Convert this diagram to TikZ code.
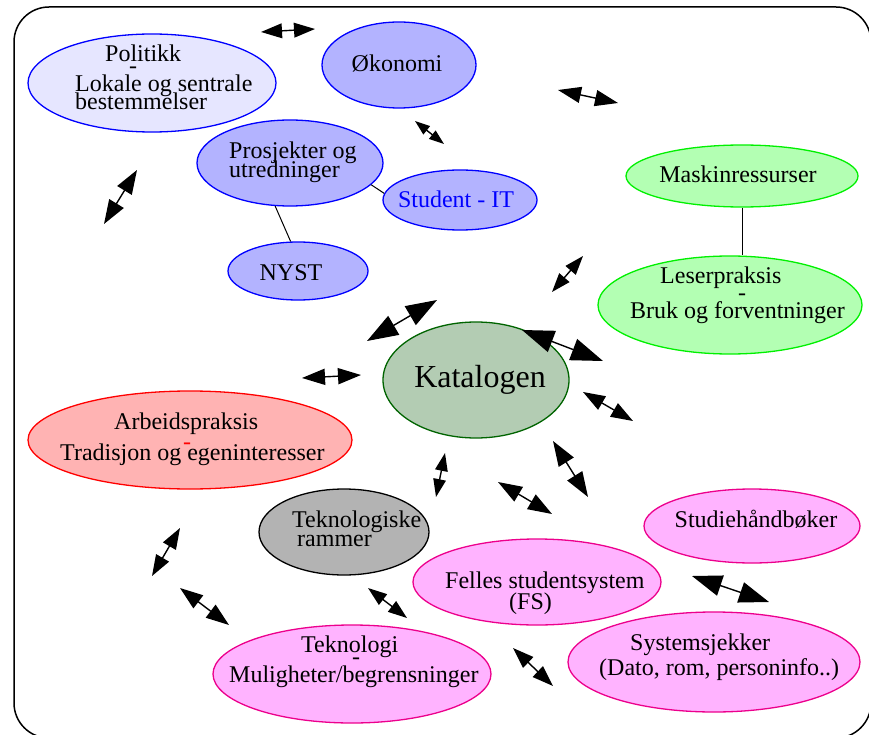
\documentclass[tikz,border=0pt]{standalone}
\usepackage{fontspec}
\setmainfont{Liberation Serif}
\usetikzlibrary{arrows.meta,shapes.geometric}
\setlength{\lineskiplimit}{-100pt}

\definecolor{lavlight}{RGB}{230,230,255}
\definecolor{bluefill}{RGB}{179,179,255}
\definecolor{greenfill}{RGB}{179,255,179}
\definecolor{greenline}{RGB}{0,240,0}
\definecolor{katfill}{RGB}{179,204,179}
\definecolor{katline}{RGB}{0,100,0}
\definecolor{redfill}{RGB}{255,179,179}
\definecolor{grayfill}{RGB}{179,179,179}
\definecolor{pinkfill}{RGB}{255,179,255}

\tikzset{
  oval/.style={ellipse, draw=#1, line width=1.3pt, inner sep=0pt},
  txt/.style={inner sep=0pt, font=\fontsize{24}{19}\selectfont},
}

\begin{document}
\begin{tikzpicture}[x=1pt,y=-1pt]
  \useasboundingbox (0,0) rectangle (869,735);
  \draw[line width=1.5pt, rounded corners=35pt] (14,7) rectangle (871,738); % ramme

  % blaa gruppe
  \node[oval=blue, fill=lavlight, minimum width=248pt, minimum height=98pt] (pol) at (152,83) {};
  \node[oval=blue, fill=bluefill, minimum width=154pt, minimum height=86pt] (oko) at (399,65) {};
  \node[oval=blue, fill=bluefill, minimum width=186pt, minimum height=86pt] (pro) at (290,163) {};
  \node[oval=blue, fill=bluefill, minimum width=154pt, minimum height=60pt] (stu) at (460,200) {};
  \node[oval=blue, fill=bluefill, minimum width=140pt, minimum height=58pt] (nyst) at (298,271) {};
  % groenn gruppe
  \node[oval=greenline, fill=greenfill, minimum width=232pt, minimum height=62pt] (mas) at (742,176) {};
  \node[oval=greenline, fill=greenfill, minimum width=264pt, minimum height=98pt] (les) at (730,305) {};
  % midten
  \node[oval=katline, fill=katfill, minimum width=186pt, minimum height=116pt] (kat) at (476,380) {};
  \node[oval=red, fill=redfill, minimum width=324pt, minimum height=98pt] (arb) at (190,440) {};
  \node[oval=black, fill=grayfill, minimum width=170pt, minimum height=86pt] (tek) at (344,532) {};
  % rosa gruppe
  \node[oval=magenta, fill=pinkfill, minimum width=278pt, minimum height=98pt] (teko) at (352,674) {};
  \node[oval=magenta, fill=pinkfill, minimum width=248pt, minimum height=86pt] (fs) at (537,582) {};
  \node[oval=magenta, fill=pinkfill, minimum width=216pt, minimum height=74pt] (sth) at (752,526) {};
  \node[oval=magenta, fill=pinkfill, minimum width=292pt, minimum height=100pt] (sys) at (714,662) {};

  % forbindelser
  \draw[line width=1pt] (pro.-15) -- (stu.175);
  \draw[line width=1pt] (pro.-109) -- (nyst.104);
  \draw[line width=1pt] (mas.south) -- (les.north -| mas.south);

  % tekst
  \node[txt, anchor=north west, align=left, font=\fontsize{24}{18}\selectfont] (pol-t) at (75,44.6)
    {\hspace*{30pt}Politikk\\[-6pt]\hspace*{54pt}-\\Lokale og sentrale\\bestemmelser};
  \node[txt, anchor=base] (oko-t) at (397,72) {Økonomi};
  \node[txt, anchor=north west, align=left] (pro-t) at (229,141.6) {Prosjekter og\\utredninger};
  \node[txt, anchor=base, text=blue] (stu-t) at (456,208) {Student - IT};
  \node[txt, anchor=base] (nyst-t) at (291,280) {NYST};
  \node[txt, anchor=base] (mas-t) at (738,183) {Maskinressurser};
  \node[txt, anchor=north west, align=left, font=\fontsize{24}{17.5}\selectfont] (les-t) at (630,266.6)
    {\hspace*{30pt}Leserpraksis\\\hspace*{108pt}-\\Bruk og forventninger};
  \node[txt, anchor=base, font=\fontsize{32}{38}\selectfont] (kat-t) at (480,387) {Katalogen};
  \node[txt, anchor=north west, align=left, font=\fontsize{24}{15.5}\selectfont] (arb-t) at (60,412.6)
    {\hspace*{54pt}Arbeidspraksis\\\hspace*{123pt}\raisebox{-5pt}{\textcolor{red}{-}}\\Tradisjon og egeninteresser};
  \node[txt, anchor=north west, align=left] (tek-t) at (292,510.6) {Teknologiske\\\hspace*{5pt}rammer};
  \node[txt, anchor=north west, align=left, font=\fontsize{24}{15}\selectfont] (teko-t) at (229,635.6)
    {\hspace*{72pt}Teknologi\\\hspace*{123pt}\raisebox{3pt}{-}\\Muligheter/begrensninger};
  \node[txt, anchor=north west, align=left, font=\fontsize{24}{21}\selectfont] (fs-t) at (445,571.6)
    {Felles studentsystem\\\hspace*{64pt}(FS)};
  \node[txt, anchor=base] (sth-t) at (756,527) {Studiehåndbøker};
  \node[txt, anchor=north west, align=left, font=\fontsize{24}{25}\selectfont] (sys-t) at (599,633.6)
    {\hspace*{31pt}Systemsjekker\\(Dato, rom, personinfo..)};

  % doble piler
  \foreach \n/\p/\q/\h in {1/{261,32}/{315,29}/21, 2/{415,121}/{444,144}/15, 3/{558,90}/{618,103}/23,
      4/{104,224}/{137,170}/24, 5/{367,341}/{437,300}/31, 6/{552,292}/{583,256}/19,
      7/{522,330}/{603,361}/32, 8/{302,378}/{361,375}/23, 9/{583,392}/{633,421}/22,
      10/{445,453}/{436,497}/18, 11/{553,441}/{588,497}/25, 12/{498,482}/{552,514}/24,
      13/{692,576}/{769,602}/30, 14/{368,588}/{407,618}/19, 15/{513,648}/{553,686}/21,
      16/{180,528}/{152,576}/21, 17/{180,588}/{229,625}/23}{
    \coordinate (a\n-s) at (\p);
    \coordinate (a\n-e) at (\q);
    \pgfmathsetmacro\w{0.7*\h}
    \draw[line width=1.4pt, {Triangle[length=\h pt,width=\w pt]}-{Triangle[length=\h pt,width=\w pt]}] (a\n-s) -- (a\n-e);
  }
\end{tikzpicture}
\end{document}
